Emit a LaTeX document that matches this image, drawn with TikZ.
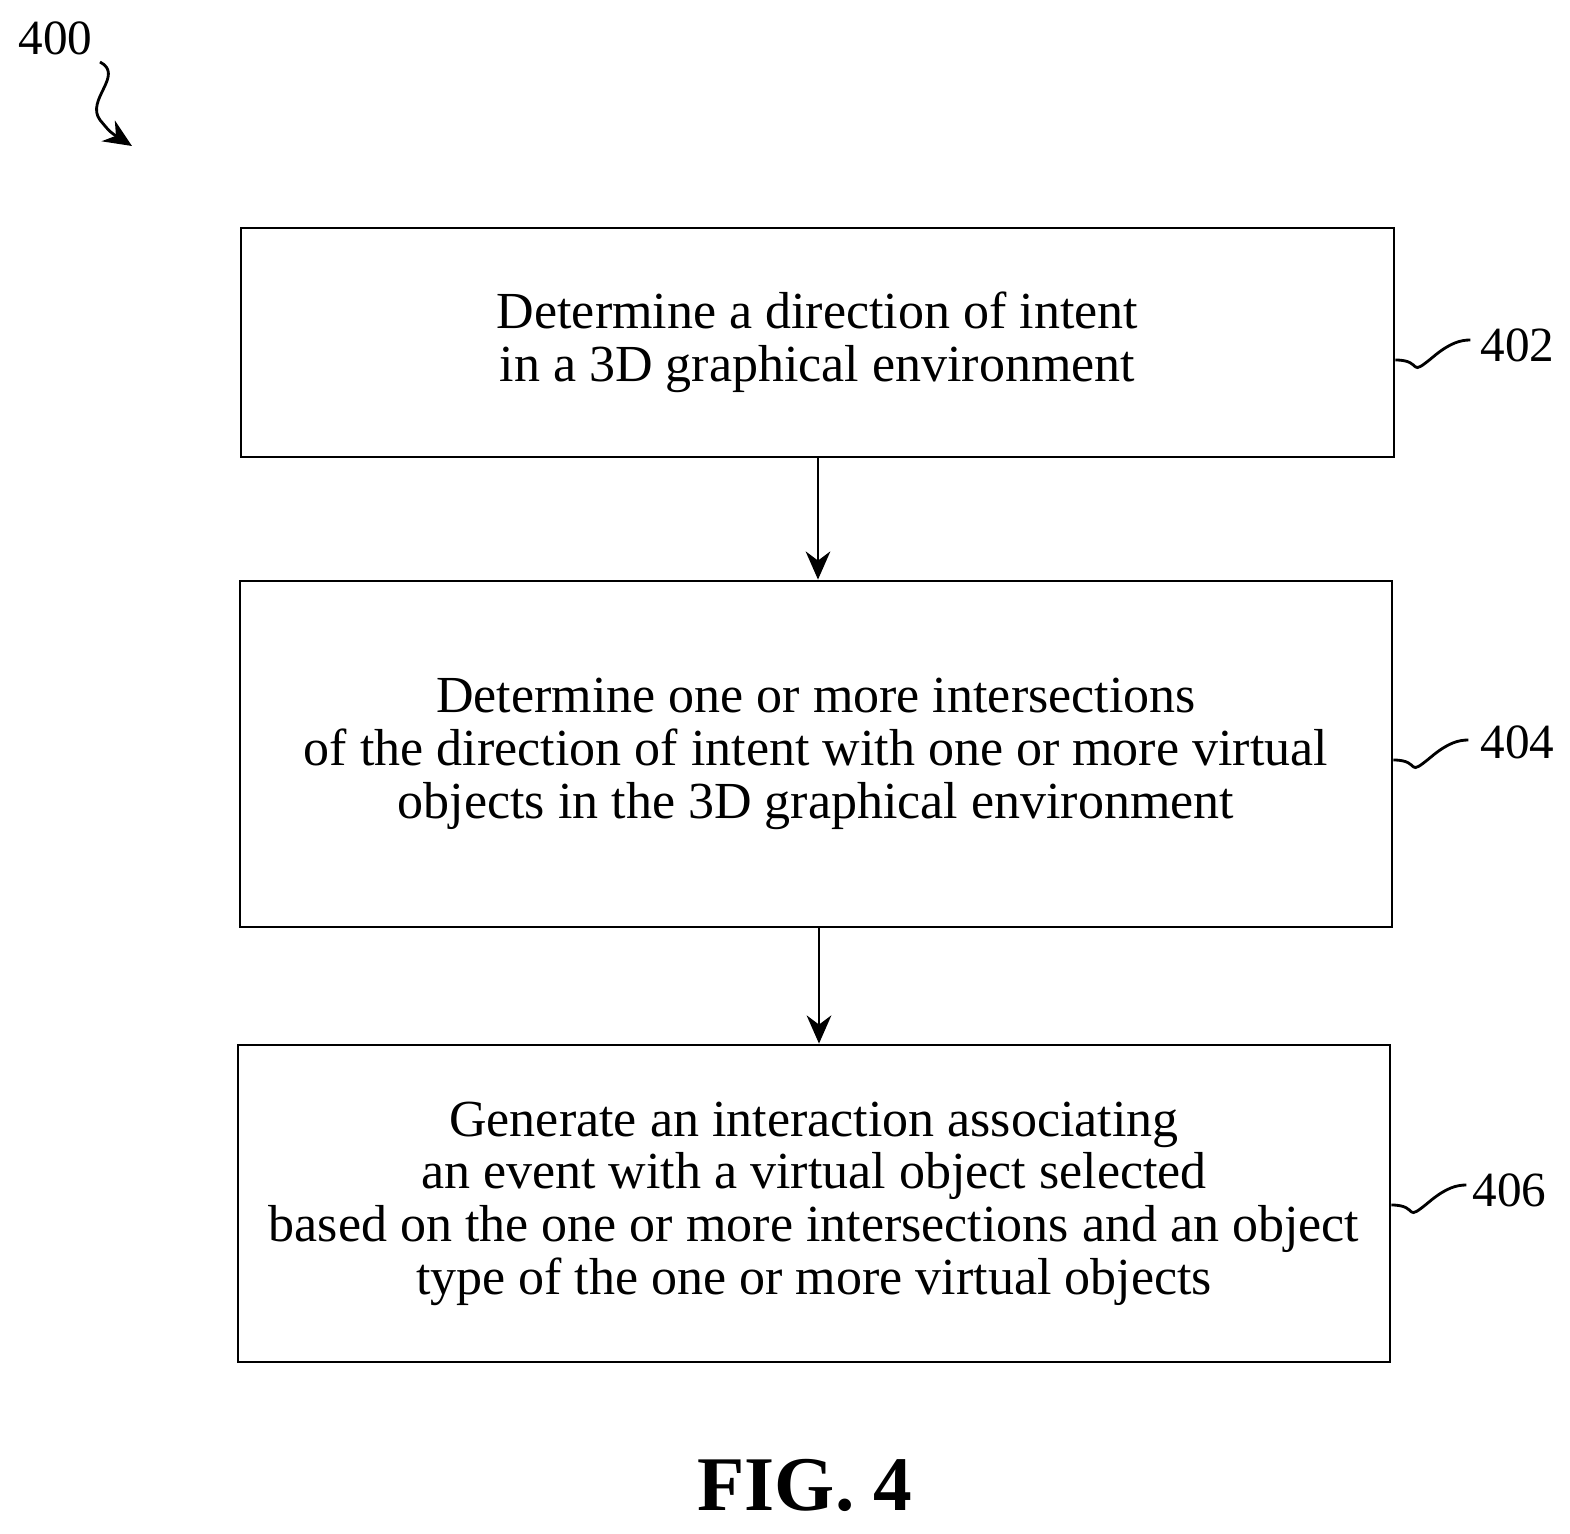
\documentclass[tikz,border=0pt]{standalone}
\usepackage{fontspec}
\setmainfont{Liberation Serif}
\usetikzlibrary{positioning,arrows.meta}
\tikzstyle{stepBox} = [draw, thick, align=center, inner sep=0pt, font=\fontsize{14.8}{15}\selectfont]
\tikzstyle{stepArrow} = [-{Stealth[length=8pt,width=7pt]}, thick]
\tikzstyle{refText} = [font=\fontsize{14}{15}\selectfont, anchor=west, inner sep=0pt]
\tikzstyle{refLine} = [thick]
\newcommand{\refMark}[3]{
  \draw [refLine] (#1.east |- 0,#2) .. controls +(0.3,0) and +(-0.3,-0.25) .. +(0.4,0.05) .. controls +(0.15,0.12) and +(-0.1,0) .. +(0.75,0.2) coordinate (#3);
}
\begin{document}
\begin{tikzpicture}
  \useasboundingbox (0,0) rectangle (15.70,-15.34);
  \node [stepBox, minimum width=11.53cm, minimum height=2.29cm] (determineIntent) at (8.175,-3.425)
    {Determine a direction of intent\\in a 3D graphical environment};
  \node [stepBox, minimum width=11.52cm, minimum height=3.46cm] (findIntersections) at (8.16,-7.54)
    {Determine one or more intersections\\of the direction of intent with one or more virtual\\objects in the 3D graphical environment};
  \node [stepBox, minimum width=11.52cm, minimum height=3.17cm] (makeInteraction) at (8.14,-12.035)
    {Generate an interaction associating\\an event with a virtual object selected\\based on the one or more intersections and an object\\type of the one or more virtual objects};

  \draw [stepArrow] (determineIntent.south -| 8.18,0) -- (findIntersections.north -| 8.18,0);
  \draw [stepArrow] (findIntersections.south -| 8.19,0) -- (makeInteraction.north -| 8.19,0);

  % reference numerals
  \refMark{determineIntent}{-3.6}{markA}
  \node [refText] (labelA) at (14.80,-3.45) {402};
  \refMark{findIntersections}{-7.6}{markB}
  \node [refText] (labelB) at (14.80,-7.42) {404};
  \refMark{makeInteraction}{-12.05}{markC}
  \node [refText] (labelC) at (14.72,-11.9) {406};

  \node [refText] (figLabel) at (0.18,-0.38) {400};
  \coordinate (figArrowEnd) at (1.32,-1.46);
  \draw [thick, -{Stealth[length=8pt,width=7pt]}] (1.0,-0.62) .. controls (1.25,-0.75) and (0.85,-1.0) .. (1.0,-1.2) .. controls (1.1,-1.32) .. (figArrowEnd);

  \node [font=\bfseries\fontsize{22}{26}\selectfont, inner sep=0pt] (figTitle) at (8.05,-14.85) {FIG. 4};
\end{tikzpicture}
\end{document}
